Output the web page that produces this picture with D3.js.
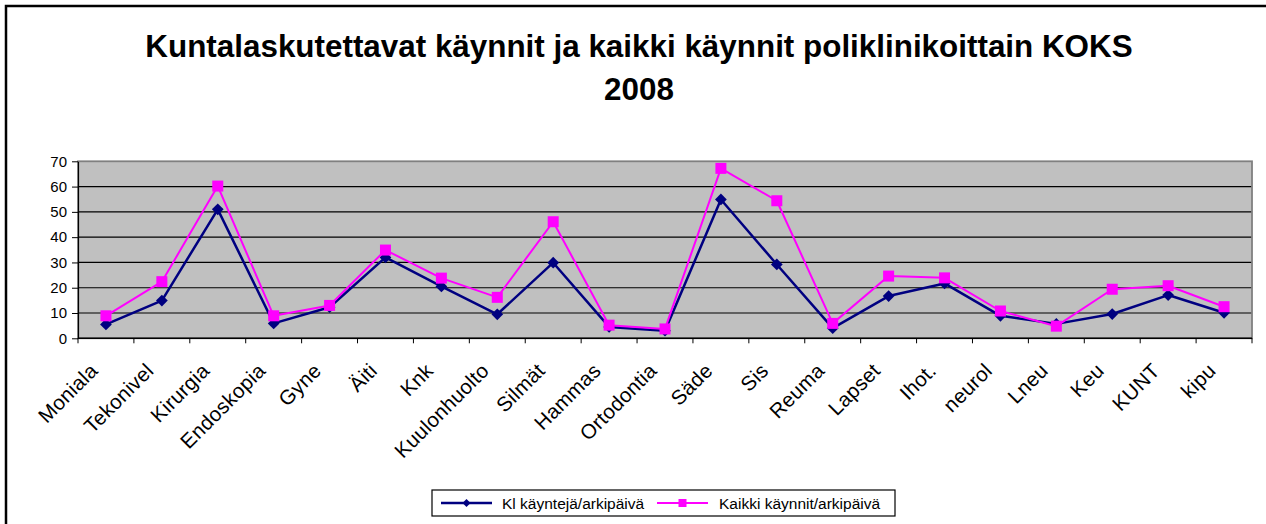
<!DOCTYPE html>
<html>
<head>
<meta charset="utf-8">
<script src="https://cdn.jsdelivr.net/npm/d3@7"></script>
<style>
  html, body { margin: 0; padding: 0; background: #fff; }
  svg { display: block; font-family: "Liberation Sans", Arial, sans-serif; }
</style>
</head>
<body>
<svg id="chart" width="1266" height="524"></svg>
<script>
const categories = ["Moniala", "Tekonivel", "Kirurgia", "Endoskopia", "Gyne", "Äiti", "Knk",
  "Kuulonhuolto", "Silmät", "Hammas", "Ortodontia", "Säde", "Sis", "Reuma", "Lapset",
  "Ihot.", "neurol", "Lneu", "Keu", "KUNT", "kipu"];
const klKaynteja = [5.5, 14.9, 51.0, 5.9, 12.3, 32.0, 20.5, 9.5, 29.9, 4.5, 3.0, 54.9, 29.2, 4.0, 16.7, 21.7, 8.9, 5.7, 9.6, 17.1, 10.1];
const kaikkiKaynnit = [8.9, 22.4, 60.2, 8.9, 13.0, 34.9, 23.8, 16.2, 46.1, 5.2, 3.7, 67.2, 54.4, 5.9, 24.6, 23.9, 10.8, 4.8, 19.4, 20.8, 12.5];
const yTicks = [0, 10, 20, 30, 40, 50, 60, 70];
const seriesNames = ["Kl käyntejä/arkipäivä", "Kaikki käynnit/arkipäivä"];
const titleLines = ["Kuntalaskutettavat käynnit ja kaikki käynnit poliklinikoittain KOKS", "2008"];

const svg = d3.select("#chart");
const navy = "#000080", pink = "#FF00FF";

// outer chart frame
svg.append("rect").attr("x", 6).attr("y", 6).attr("width", 1300).attr("height", 600)
  .attr("fill", "#fff").attr("stroke", "#000").attr("stroke-width", 2.5);

// title
const title = svg.append("text").attr("text-anchor", "middle")
  .attr("font-weight", "bold").attr("font-size", 31.4).attr("fill", "#000");
title.append("tspan").attr("x", 639).attr("y", 57).text(titleLines[0]);
title.append("tspan").attr("x", 639).attr("y", 100).text(titleLines[1]);

const plot = { left: 78, right: 1252, top: 161.3, bottom: 338.3 };
const x = d3.scaleBand().domain(categories).range([plot.left, plot.right]).padding(0);
const y = d3.scaleLinear().domain([0, 70]).range([plot.bottom, plot.top]);

// plot background
svg.append("rect").attr("x", plot.left).attr("y", plot.top)
  .attr("width", plot.right - plot.left).attr("height", plot.bottom - plot.top)
  .attr("fill", "#C0C0C0");

// gridlines
svg.append("g").selectAll("line").data(yTicks.filter(t => t > 0 && t < 70)).join("line")
  .attr("x1", plot.left).attr("x2", plot.right)
  .attr("y1", d => y(d)).attr("y2", d => y(d))
  .attr("stroke", "#000").attr("stroke-width", 1.2);

// plot border
svg.append("rect").attr("x", plot.left).attr("y", plot.top)
  .attr("width", plot.right - plot.left).attr("height", plot.bottom - plot.top)
  .attr("fill", "none").attr("stroke", "#808080").attr("stroke-width", 1.8);

// y axis
const yAxis = d3.axisLeft(y).tickValues(yTicks).tickSize(6).tickPadding(5).tickSizeOuter(0);
const gy = svg.append("g").attr("transform", `translate(${plot.left},0)`).call(yAxis);
gy.select(".domain").attr("stroke", "#000").attr("stroke-width", 1.2);
gy.selectAll(".tick line").attr("stroke", "#000");
gy.selectAll(".tick text").attr("font-size", 15).attr("fill", "#000")
  .attr("font-family", "Liberation Sans, Arial, sans-serif");

// x axis with ticks at category boundaries
const boundaries = categories.map(c => x(c)).concat([plot.right]);
const gx = svg.append("g");
gx.append("line").attr("x1", plot.left).attr("x2", plot.right)
  .attr("y1", plot.bottom).attr("y2", plot.bottom).attr("stroke", "#000").attr("stroke-width", 1.5);
gx.selectAll("line.tk").data(boundaries).join("line").attr("class", "tk")
  .attr("x1", d => d).attr("x2", d => d)
  .attr("y1", plot.bottom).attr("y2", plot.bottom + 5).attr("stroke", "#000");
gx.selectAll("text").data(categories).join("text")
  .attr("text-anchor", "end").attr("font-size", 20.5).attr("fill", "#000")
  .attr("letter-spacing", 0.3)
  .attr("transform", d => `translate(${x(d) + x.bandwidth() / 2 - 7},372) rotate(-45)`)
  .text(d => d);

// series
const cx = d => x(d) + x.bandwidth() / 2;
const line = vals => d3.line().x((v, i) => cx(categories[i])).y(v => y(v))(vals);

svg.append("path").attr("d", line(klKaynteja)).attr("fill", "none")
  .attr("stroke", navy).attr("stroke-width", 2.5).attr("stroke-linejoin", "round");
svg.append("g").selectAll("path").data(klKaynteja).join("path")
  .attr("d", d3.symbol(d3.symbolDiamond2, 88)())
  .attr("transform", (v, i) => `translate(${cx(categories[i])},${y(v)})`)
  .attr("fill", navy);

svg.append("path").attr("d", line(kaikkiKaynnit)).attr("fill", "none")
  .attr("stroke", pink).attr("stroke-width", 2).attr("stroke-linejoin", "round");
svg.append("g").selectAll("rect").data(kaikkiKaynnit).join("rect")
  .attr("x", (v, i) => cx(categories[i]) - 5.5).attr("y", v => y(v) - 5.5)
  .attr("width", 11).attr("height", 11).attr("fill", pink);

// legend
const lg = svg.append("g");
lg.append("rect").attr("x", 432).attr("y", 490).attr("width", 463).attr("height", 26)
  .attr("fill", "#fff").attr("stroke", "#000").attr("stroke-width", 1.2);
const legendItems = [
  { name: seriesNames[0], color: navy, x0: 441, tx: 502, shape: "diamond", w: 2.5 },
  { name: seriesNames[1], color: pink, x0: 657, tx: 719, shape: "square", w: 2 }
];
legendItems.forEach(it => {
  lg.append("line").attr("x1", it.x0).attr("x2", it.x0 + 51).attr("y1", 503).attr("y2", 503)
    .attr("stroke", it.color).attr("stroke-width", it.w);
  if (it.shape === "diamond") {
    lg.append("path").attr("d", d3.symbol(d3.symbolDiamond2, 40)())
      .attr("transform", `translate(${it.x0 + 25.5},503)`).attr("fill", it.color);
  } else {
    lg.append("rect").attr("x", it.x0 + 25.5 - 4).attr("y", 499).attr("width", 8).attr("height", 8)
      .attr("fill", it.color);
  }
  lg.append("text").attr("x", it.tx).attr("y", 508.5).attr("font-size", 15.5).attr("fill", "#000")
    .text(it.name);
});
</script>
</body>
</html>
